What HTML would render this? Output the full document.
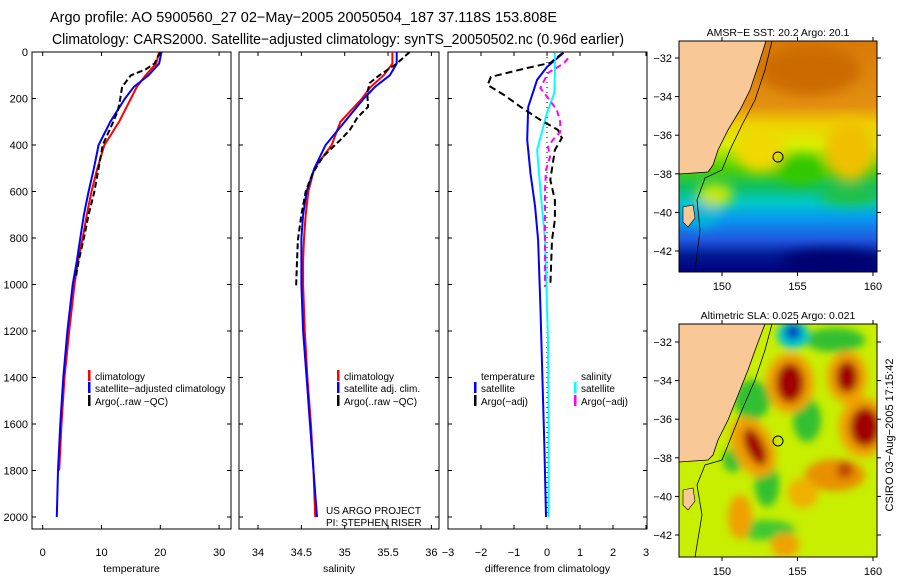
<!DOCTYPE html>
<html><head><meta charset="utf-8"><style>
body{margin:0;background:#fff;}
svg{display:block;font-family:"Liberation Sans",sans-serif;}
text{fill:#000;}
</style></head><body>
<svg id="c" width="900" height="580" viewBox="0 0 900 580">
<text x="50" y="22" font-size="14.5" textLength="507" lengthAdjust="spacingAndGlyphs">Argo profile: AO 5900560_27 02−May−2005 20050504_187 37.118S 153.808E</text>
<text x="52" y="44" font-size="14.5" textLength="572" lengthAdjust="spacingAndGlyphs">Climatology: CARS2000. Satellite−adjusted climatology: synTS_20050502.nc (0.96d earlier)</text>
<g id="p1"></g>
<g id="p2"></g>
<g id="p3"></g>

<text x="778" y="36" font-size="10.5" text-anchor="middle">AMSR−E SST: 20.2 Argo: 20.1</text>
<defs>
<linearGradient id="sstg" x1="0" y1="0" x2="0" y2="1">
<stop offset="0" stop-color="#d97a08"/><stop offset="0.28" stop-color="#e29010"/>
<stop offset="0.36" stop-color="#f0d000"/><stop offset="0.45" stop-color="#d8f000"/>
<stop offset="0.55" stop-color="#50d000"/><stop offset="0.63" stop-color="#10c060"/>
<stop offset="0.7" stop-color="#00c8c8"/><stop offset="0.77" stop-color="#0898f0"/>
<stop offset="0.86" stop-color="#2058e0"/><stop offset="0.93" stop-color="#001890"/><stop offset="1" stop-color="#000080"/>
</linearGradient>
<filter id="bl"><feGaussianBlur stdDeviation="6"/></filter>
<filter id="bl2"><feGaussianBlur stdDeviation="4"/></filter>
<clipPath id="m1c"><rect x="679" y="41" width="198" height="231"/></clipPath>
<clipPath id="m2c"><rect x="679" y="324" width="198" height="233"/></clipPath>
</defs>
<g clip-path="url(#m1c)">
<rect x="679" y="41" width="198" height="231" fill="url(#sstg)"/>
<g filter="url(#bl)">
<ellipse cx="810" cy="70" rx="50" ry="25" fill="#cc6a00"/>
<ellipse cx="760" cy="150" rx="25" ry="22" fill="#f0d800"/>
<ellipse cx="850" cy="150" rx="25" ry="30" fill="#f0c000"/>
<ellipse cx="800" cy="170" rx="25" ry="14" fill="#30c800"/>
<ellipse cx="850" cy="195" rx="30" ry="10" fill="#20c040"/>
<ellipse cx="715" cy="195" rx="18" ry="12" fill="#c8e800"/>
<ellipse cx="700" cy="215" rx="20" ry="12" fill="#00b8d8"/>
<ellipse cx="830" cy="262" rx="50" ry="12" fill="#000070"/>
</g>
<polygon points="679,41 766,41 760,60 750,90 740,110 728,130 718,150 713,165 708,172 679,174" fill="#f8c896" stroke="#000" stroke-width="0.8"/>
<polygon points="683,207 693,205 695,218 688,227 683,222" fill="#f8c896" stroke="#000" stroke-width="0.6"/>
<polyline points="772,41 765,70 755,100 742,125 730,150 722,170 705,178 697,200 700,230 695,272" fill="none" stroke="#000" stroke-width="0.8"/>
<circle cx="778" cy="157" r="5" fill="none" stroke="#000" stroke-width="1"/>
</g>
<rect x="679" y="41" width="198" height="231" fill="none" stroke="#000" stroke-width="1"/>
<g id="ax1"></g>

<text x="778" y="319" font-size="10.5" text-anchor="middle">Altimetric SLA: 0.025 Argo: 0.021</text>
<g clip-path="url(#m2c)">
<rect x="679" y="324" width="198" height="233" fill="#c8ee00"/>
<g filter="url(#bl2)">
<ellipse cx="752" cy="400" rx="18" ry="20" fill="#30c030"/>
<ellipse cx="807" cy="420" rx="14" ry="22" fill="#30c030"/>
<ellipse cx="767" cy="485" rx="12" ry="22" fill="#30c030"/>
<ellipse cx="733" cy="460" rx="10" ry="12" fill="#30c030"/>
<ellipse cx="835" cy="340" rx="30" ry="12" fill="#30c030"/>
<ellipse cx="765" cy="530" rx="30" ry="10" fill="#40c830"/>
<ellipse cx="793" cy="335" rx="16" ry="14" fill="#00c8d0"/>
<ellipse cx="793" cy="332" rx="8" ry="8" fill="#0040c0"/>
<ellipse cx="790" cy="383" rx="24" ry="30" fill="#f0a000"/>
<ellipse cx="847" cy="377" rx="20" ry="26" fill="#f0a000"/>
<ellipse cx="863" cy="427" rx="24" ry="30" fill="#f0a000"/>
<ellipse cx="753" cy="447" rx="20" ry="32" fill="#f0a000" transform="rotate(-25 753 447)"/>
<ellipse cx="835" cy="475" rx="30" ry="16" fill="#e89000"/>
<ellipse cx="803" cy="493" rx="15" ry="15" fill="#f0b000"/>
<ellipse cx="740" cy="517" rx="12" ry="22" fill="#f0a000"/>
<ellipse cx="785" cy="545" rx="14" ry="12" fill="#f0a000"/>
<ellipse cx="790" cy="383" rx="14" ry="20" fill="#a00000"/>
<ellipse cx="847" cy="377" rx="11" ry="16" fill="#a00000"/>
<ellipse cx="865" cy="427" rx="15" ry="20" fill="#a00000"/>
<ellipse cx="755" cy="447" rx="9" ry="20" fill="#a00000" transform="rotate(-25 755 447)"/>
<ellipse cx="845" cy="470" rx="8" ry="8" fill="#c04000"/>
</g>
<polygon points="679,324 765,324 757,345 748,370 738,395 728,420 718,440 713,455 708,460 679,462" fill="#f8c896" stroke="#000" stroke-width="0.8"/>
<polygon points="683,490 693,488 695,501 688,510 683,505" fill="#f8c896" stroke="#000" stroke-width="0.6"/>
<polyline points="772,324 765,350 755,380 742,410 730,440 722,460 705,465 697,485 702,515 695,557" fill="none" stroke="#000" stroke-width="0.8"/>
<circle cx="778" cy="441" r="5" fill="none" stroke="#000" stroke-width="1"/>
</g>
<rect x="679" y="324" width="198" height="233" fill="none" stroke="#000" stroke-width="1"/>
<g id="ax2"></g>
<text transform="translate(893,435) rotate(-90)" font-size="11" text-anchor="middle">CSIRO 03−Aug−2005 17:15:42</text>
</svg>
<script>
const depthTicks = [0,200,400,600,800,1000,1200,1400,1600,1800,2000];
const tempTicks = [0,10,20,30];
const salTicks = [34,34.5,35,35.5,36];
const diffTicks = [-3,-2,-1,0,1,2,3];
const tClimDepth = [0,50,100,150,200,300,400,500,600,700,800,900,1000,1200,1400,1600,1800];
const tClim = [19.8,19.3,17.5,16,15,13,10.5,9.3,8.3,7.5,6.8,6,5.4,4.5,3.7,3.2,2.8];
const tSatDepth = [0,50,100,150,200,300,400,500,600,700,800,900,1000,1200,1400,1600,1800,2000];
const tSat = [20.2,19.8,18,15.5,14,11.5,9.5,8.7,7.8,7,6.4,5.8,5.1,4.2,3.5,3,2.6,2.4];
const tArgoDepth = [0,50,75,100,150,200,250,300,400,500,600,700,800,900,975];
const tArgo = [20,19,17.5,15,13.5,13.2,12.8,12,10.2,9.5,8.8,7.8,7,6.1,5.6];
const sClimDepth = [0,50,100,150,200,300,400,500,600,700,800,900,1000,1200,1400,1600,1800,2000];
const sClim = [35.55,35.55,35.45,35.3,35.2,34.95,34.85,34.65,34.58,34.55,34.53,34.52,34.52,34.54,34.57,34.61,34.64,34.66];
const sSatDepth = [0,50,100,150,200,300,400,500,600,700,800,1000,1200,1400,1600,1800,2000];
const sSat = [35.6,35.6,35.52,35.35,35.22,35.0,34.78,34.65,34.56,34.52,34.5,34.5,34.52,34.56,34.6,34.64,34.68];
const sArgoDepth = [0,50,100,133,175,236,280,335,378,450,522,600,700,808,900,1010];
const sArgo = [35.75,35.6,35.4,35.29,35.26,35.27,35.15,35.06,34.95,34.75,34.63,34.55,34.5,34.46,34.45,34.44];
const dTArgoDepth = [4,47,69,107,142,185,236,292,335,370,421,477,550,637,722,808,1010];
const dTArgo = [0.48,0.1,-0.6,-1.7,-1.8,-1.3,-0.8,-0.2,0.33,0.45,0.24,0.18,0.1,0.24,0.24,0.15,0.1];
const dTSatDepth = [4,64,120,236,378,522,666,808,1096,1400,1700,2000];
const dTSat = [0.5,0,-0.3,-0.57,-0.6,-0.5,-0.36,-0.27,-0.2,-0.14,-0.08,-0.03];
const dSSatDepth = [4,90,176,262,421,594,808,1238,1600,2000];
const dSSat = [0.24,0.24,0.22,0,-0.3,-0.2,-0.06,0.03,0.05,0.05];
const dSArgoDepth = [27,50,90,155,198,250,300,344,378,408,451,507,594,808,1010];
const dSArgo = [0.64,0.5,0.03,-0.2,0.03,0.3,0.4,0.4,0.18,0.03,0.09,-0.03,-0.06,-0.06,-0.06];
const lonTicks = [150,155,160];
const latTicks = [-32,-34,-36,-38,-40,-42];

const NS='http://www.w3.org/2000/svg';
function mk(p,tag,attrs,txt){const e=document.createElementNS(NS,tag);for(const k in attrs)e.setAttribute(k,attrs[k]);if(txt!==undefined)e.textContent=txt;p.appendChild(e);return e;}
const TOP=52,BOT=529;
const yD=d=>52+d*0.2325;
function panel(g,left,right,xf,ticks,fmt,title,showY){
  const f=mk(g,'rect',{x:left,y:TOP,width:right-left,height:BOT-TOP,fill:'none',stroke:'#000','stroke-width':1});
  
  
  depthTicks.forEach(d=>{
    mk(g,'line',{x1:left,x2:left+4,y1:yD(d),y2:yD(d),stroke:'#000'});
    mk(g,'line',{x1:right,x2:right-4,y1:yD(d),y2:yD(d),stroke:'#000'});
    if(showY){const t=mk(g,'text',{x:28,y:yD(d)+4,'font-size':11,'text-anchor':'end'},String(d));
      
      }
  });
  ticks.forEach(v=>{const x=xf(v);
    mk(g,'line',{x1:x,x2:x,y1:BOT,y2:BOT-4,stroke:'#000'});
    mk(g,'line',{x1:x,x2:x,y1:TOP,y2:TOP+4,stroke:'#000'});
    const t=mk(g,'text',{x:x,y:BOT+27,'font-size':11,'text-anchor':'middle'},fmt(v));
    
    
  });
  const tt=mk(g,'text',{x:(left+right)/2,y:572,'font-size':10.5,'text-anchor':'middle'},title);
  
  
}
function line(g,xf,ds,vs,col,w,dash,name){
  const pts=ds.map((d,i)=>xf(vs[i]).toFixed(1)+','+yD(d).toFixed(1)).join(' ');
  const a={points:pts,fill:'none',stroke:col,'stroke-width':w};
  if(dash)a['stroke-dasharray']=dash;
  const e=mk(g,'polyline',a);
  
  
}
function leg(g,x,y,col,txt,name){
  mk(g,'rect',{x:x,y:y-10,width:2.5,height:11,fill:col});
  const t=mk(g,'text',{x:x+7,y:y,'font-size':10},txt);
  
  
}
const fmtD=v=>(v<0?'−'+(-v):String(v));
const p1=document.getElementById('p1');
const xT=t=>42.7+t*5.88;
panel(p1,32,231,xT,tempTicks,String,'temperature',true);
line(p1,xT,tClimDepth,tClim,'#f00',2,null,'temp-climatology-line');
line(p1,xT,tSatDepth,tSat,'#00f',2,null,'temp-satellite-line');
line(p1,xT,tArgoDepth,tArgo,'#000',2,'6,3','temp-argo-line');
leg(p1,88,380,'#f00','climatology','legend-climatology');
leg(p1,88,392,'#00f','satellite−adjusted climatology','legend-satellite');
leg(p1,88,405,'#000','Argo(..raw −QC)','legend-argo');
const p2=document.getElementById('p2');
const xS=s=>258+(s-34)*86.7;
panel(p2,239,439,xS,salTicks,String,'salinity',false);
line(p2,xS,sClimDepth,sClim,'#f00',2,null,'sal-climatology-line');
line(p2,xS,sSatDepth,sSat,'#00f',2,null,'sal-satellite-line');
line(p2,xS,sArgoDepth,sArgo,'#000',2,'6,3','sal-argo-line');
leg(p2,337,380,'#f00','climatology','legend-climatology');
leg(p2,337,392,'#00f','satellite adj. clim.','legend-satellite');
leg(p2,337,405,'#000','Argo(..raw −QC)','legend-argo');
const u1=mk(p2,'text',{x:326,y:514,'font-size':10},'US ARGO PROJECT');


const u2=mk(p2,'text',{x:326,y:526,'font-size':10},'PI: STEPHEN RISER');


const p3=document.getElementById('p3');
const xDf=d=>547+d*33;
panel(p3,448,647,xDf,diffTicks,fmtD,'difference from climatology',false);
mk(p3,'line',{x1:xDf(0),x2:xDf(0),y1:yD(0),y2:yD(2000),stroke:'#000','stroke-dasharray':'1,4'});
line(p3,xDf,dTSatDepth,dTSat,'#00f',2,null,'diff-temp-satellite-line');
line(p3,xDf,dSSatDepth,dSSat,'#0ff',2,null,'diff-sal-satellite-line');
line(p3,xDf,dTArgoDepth,dTArgo,'#000',2,'7,4','diff-temp-argo-line');
line(p3,xDf,dSArgoDepth,dSArgo,'#f0f',2,'6,4','diff-sal-argo-line');
const l1=mk(p3,'text',{x:481,y:380,'font-size':10},'temperature');


leg(p3,474,392,'#00f','satellite','legend-temp-satellite');
leg(p3,474,405,'#000','Argo(−adj)','legend-temp-argo');
const l2=mk(p3,'text',{x:581,y:380,'font-size':10},'salinity');


leg(p3,574,392,'#0ff','satellite','legend-sal-satellite');
leg(p3,574,405,'#f0f','Argo(−adj)','legend-sal-argo');
function mapAx(id,top,bot,lat32){
  const g=document.getElementById(id);
  lonTicks.forEach(l=>{const x=722+(l-150)*15.1;
    mk(g,'line',{x1:x,x2:x,y1:top,y2:top-4,stroke:'#000'});
    mk(g,'line',{x1:x,x2:x,y1:bot,y2:bot+4,stroke:'#000'});
    const t=mk(g,'text',{x:x,y:bot+18,'font-size':11,'text-anchor':'middle'},String(l));
    
    });
  latTicks.forEach(l=>{const y=lat32+(-32-l)*19.3;
    mk(g,'line',{x1:679,x2:675,y1:y,y2:y,stroke:'#000'});
    mk(g,'line',{x1:877,x2:881,y1:y,y2:y,stroke:'#000'});
    const t=mk(g,'text',{x:672,y:y+4,'font-size':11,'text-anchor':'end'},fmtD(l));
    
    });
}
mapAx('ax1',41,272,58);
mapAx('ax2',324,557,342);
</script>
</body></html>
